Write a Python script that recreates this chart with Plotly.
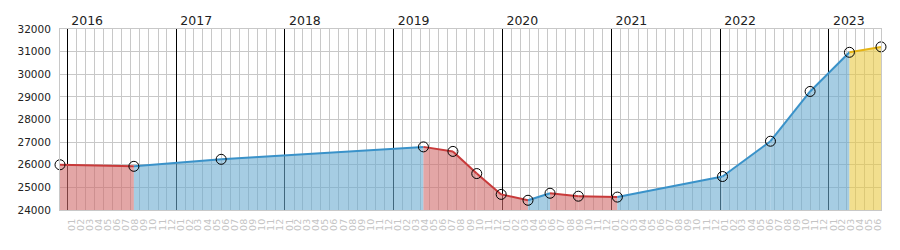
import plotly.graph_objects as go
import pandas as pd

# ---- data ----
dates = ["2015-12-08", "2016-08-12", "2017-06-01", "2019-04-11", "2019-07-19",
         "2019-10-07", "2019-12-28", "2020-03-27", "2020-06-09", "2020-09-12",
         "2021-01-21", "2022-01-09", "2022-06-19", "2022-10-30", "2023-03-11",
         "2023-06-25"]
values = [26000, 25930, 26240, 26790, 26590,
          25610, 24690, 24430, 24740, 24610,
          24570, 25480, 27040, 29240, 30970,
          31210]
forecast_from = 14  # index of the point after which the segment is a forecast

first_month = "2016-01"
last_month = "2023-06"
y_min, y_max, y_step = 24000, 32000, 1000

# ---- styles ----
STYLE = {
    "down": dict(line="rgb(200,58,58)", fill="rgba(208,107,107,0.6)"),
    "up": dict(line="rgb(58,146,201)", fill="rgba(107,172,208,0.6)"),
    "forecast": dict(line="rgb(230,180,20)", fill="rgba(233,202,67,0.6)"),
}
GRID = "#c8c8c8"
FONT = "DejaVu Sans"

months = pd.period_range(first_month, last_month, freq="M")
month_mid = [(m.start_time + (m.end_time - m.start_time) / 2).strftime("%Y-%m-%d %H:%M") for m in months]
month_text = [m.strftime("%m") for m in months]

fig = go.Figure()
for i in range(len(dates) - 1):
    if i >= forecast_from:
        kind = "forecast"
    elif values[i + 1] < values[i]:
        kind = "down"
    else:
        kind = "up"
    st = STYLE[kind]
    fig.add_trace(go.Scatter(
        x=dates[i:i + 2], y=values[i:i + 2], mode="lines",
        line=dict(color=st["line"], width=2),
        fill="tozeroy", fillcolor=st["fill"], hoverinfo="skip",
    ))

fig.add_trace(go.Scatter(
    x=dates, y=values, mode="markers", xaxis="x2",
    marker=dict(symbol="circle-open", size=10, color="black", line=dict(width=1)),
    cliponaxis=False,
))

fig.update_layout(
    width=900, height=250,
    margin=dict(l=60, r=19, t=20, b=40),
    paper_bgcolor="white", plot_bgcolor="white",
    showlegend=False,
    font=dict(family=FONT, color="#222222"),
    xaxis=dict(
        type="date", range=[dates[0], dates[-1]],
        tickmode="array", tickvals=month_mid, ticktext=month_text,
        tickangle=-90, tickfont=dict(size=9.5, color="#c4c4c4", family=FONT),
        ticks="", showgrid=False, zeroline=False, ticklabelstandoff=4,
        minor=dict(tick0="2016-01-01", dtick="M1", showgrid=True,
                   gridcolor=GRID, gridwidth=1),
        showline=True, linecolor=GRID, linewidth=1, mirror=True,
    ),
    xaxis2=dict(
        type="date", overlaying="x", matches="x", side="top",
        tickmode="linear", tick0="2016-01-01", dtick="M12", tickformat="%Y",
        showgrid=True, gridcolor="black", gridwidth=1,
        ticks="", showline=False, zeroline=False,
        tickfont=dict(size=12.5, color="#222222", family=FONT),
        ticklabelshift=20, ticklabelstandoff=1,
    ),
    yaxis=dict(
        range=[y_min, y_max], dtick=y_step, tick0=y_min, tickformat="d",
        gridcolor=GRID, gridwidth=1, zeroline=False,
        showline=True, linecolor=GRID, linewidth=1, mirror=True,
        tickfont=dict(size=10.5, color="#222222", family=FONT),
        ticks="", ticklabelstandoff=6,
    ),
)

fig.write_html("out.html")
